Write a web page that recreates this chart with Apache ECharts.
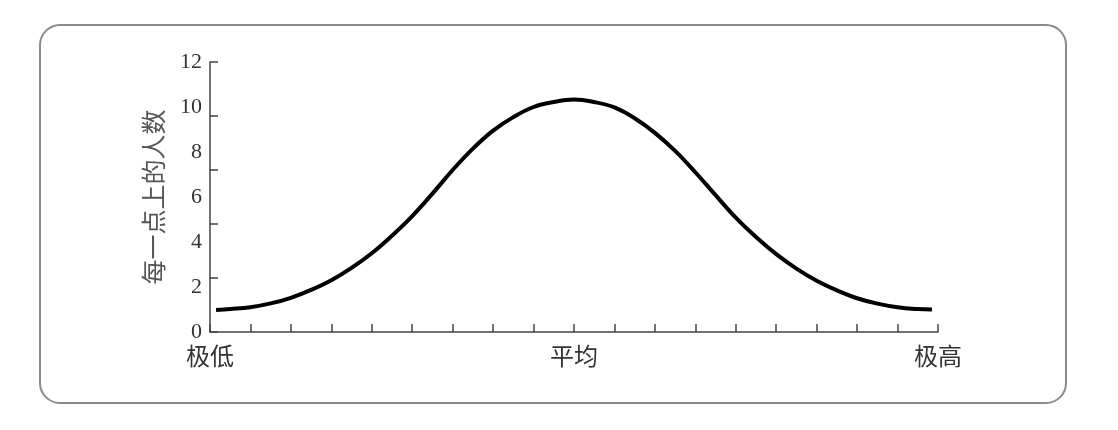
<!DOCTYPE html>
<html>
<head>
<meta charset="utf-8">
<script src="https://cdn.jsdelivr.net/npm/echarts@6/dist/echarts.min.js"></script>
<style>
html,body{margin:0;padding:0;background:#fff;}
#chart{width:1118px;height:430px;}
</style>
</head>
<body>
<div id="chart"></div>
<script>
// Data
const xPositions = [0.15, 0.5, 1, 1.5, 2, 2.5, 3, 3.5, 4, 4.5, 5, 5.5, 6, 6.5, 7, 7.5, 8, 8.5, 9,
                    9.5, 10, 10.5, 11, 11.5, 12, 12.5, 13, 13.5, 14, 14.5, 15, 15.5, 16, 16.5, 17, 17.5, 17.85];
const yValues = [0.98, 1.02, 1.1, 1.27, 1.52, 1.87, 2.3, 2.85, 3.5, 4.28, 5.15, 6.15, 7.2, 8.15, 8.95, 9.55, 10.0, 10.22, 10.33,
                 10.22, 9.98, 9.5, 8.85, 8.05, 7.1, 6.08, 5.08, 4.22, 3.46, 2.82, 2.28, 1.85, 1.5, 1.26, 1.1, 1.02, 1.0];
const xTickLabels = ["极低", "平均", "极高"];
const xTickPositions = [0, 9, 18];
const yAxisName = "每一点上的人数";

const seriesData = xPositions.map((x, i) => [x, yValues[i]]);

const chart = echarts.init(document.getElementById('chart'));
chart.setOption({
  backgroundColor: '#fff',
  animation: false,
  graphic: [{
    type: 'rect',
    shape: { x: 40, y: 25, width: 1026, height: 378, r: 20 },
    style: { fill: 'none', stroke: '#8a8a8a', lineWidth: 2 },
    z: -1
  }],
  grid: { left: 210, right: 180, top: 62, bottom: 98 },
  xAxis: {
    type: 'value', min: 0, max: 18, interval: 1,
    axisLine: { show: true, lineStyle: { color: '#444', width: 1.5 } },
    axisTick: { show: true, inside: true, length: 8, lineStyle: { color: '#444', width: 1.5 } },
    splitLine: { show: false },
    axisLabel: {
      show: true, margin: 12, color: '#333', fontSize: 24,
      fontFamily: '"Noto Sans CJK SC", sans-serif',
      showMinLabel: true, showMaxLabel: true,
      formatter: v => { const i = xTickPositions.indexOf(v); return i >= 0 ? xTickLabels[i] : ''; }
    }
  },
  yAxis: [{
    type: 'value', min: 0, max: 12, interval: 2,
    name: yAxisName, nameLocation: 'middle', nameGap: 44, nameRotate: 90,
    nameTextStyle: { color: '#555', fontSize: 25, fontFamily: '"Noto Sans CJK SC", sans-serif' },
    axisLine: { show: true, lineStyle: { color: '#444', width: 1.5 } },
    axisTick: { show: false },
    splitLine: { show: false },
    axisLabel: { color: '#333', fontSize: 22, margin: 8, fontFamily: '"Liberation Serif", serif' }
  }, {
    type: 'value', min: 0, max: 12, interval: 2.4, position: 'left',
    axisLine: { show: false },
    axisTick: { show: true, inside: true, length: 8, lineStyle: { color: '#444', width: 1.5 } },
    splitLine: { show: false },
    axisLabel: { show: false }
  }],
  series: [{
    type: 'line', data: seriesData, smooth: 0.4, showSymbol: false,
    lineStyle: { color: '#000', width: 4 }
  }]
});
</script>
</body>
</html>
